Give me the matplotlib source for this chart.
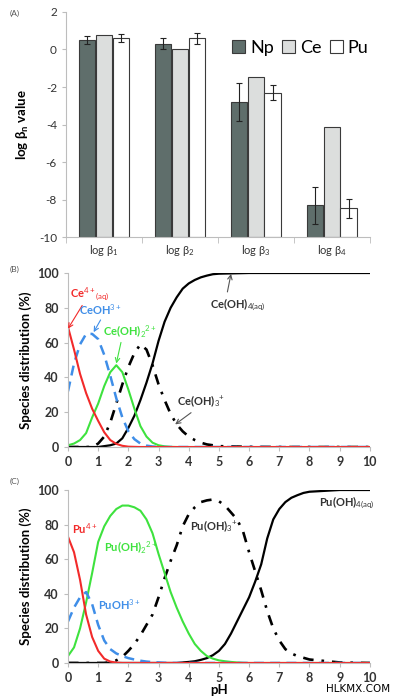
import numpy as np
import matplotlib
matplotlib.use('Agg')
import matplotlib.pyplot as plt

plt.rcParams['font.family'] = ['Lato', 'DejaVu Sans']
plt.rcParams['mathtext.fontset'] = 'custom'
plt.rcParams['mathtext.rm'] = 'Lato'
plt.rcParams['mathtext.it'] = 'Lato:italic'
plt.rcParams['mathtext.bf'] = 'Lato:bold'

# ---- panel A data: log beta_n values
beta_labels = [r'log β$_1$', r'log β$_2$', r'log β$_3$', r'log β$_4$']
np_vals = [0.5, 0.3, -2.8, -8.3]
np_err = [0.2, 0.3, 1.0, 1.0]
ce_vals = [0.75, 0.05, -1.45, -4.15]
pu_vals = [0.6, 0.6, -2.3, -8.45]
pu_err = [0.2, 0.3, 0.4, 0.5]

# ---- panel B data: Ce speciation vs pH
ph_b = [0.0, 0.2, 0.4, 0.6, 0.8, 1.0, 1.2, 1.4, 1.6, 1.8, 2.0, 2.2, 2.4, 2.6,
        2.8, 3.0, 3.2, 3.4, 3.6, 3.8, 4.0, 4.2, 4.4, 4.6, 4.8, 5.0, 6, 7, 8, 9, 10]
ce4 = [69, 56, 42, 31, 22, 15, 8.5, 4, 1.8, 0.7, 0.2, 0.1, 0, 0, 0, 0, 0, 0, 0, 0,
       0, 0, 0, 0, 0, 0, 0, 0, 0, 0, 0]
ceoh = [32, 48, 59, 65, 65, 62, 53, 41, 28, 17, 9, 4.5, 2, 0.8, 0.3, 0.1, 0, 0, 0,
        0, 0, 0, 0, 0, 0, 0, 0, 0, 0, 0, 0]
ceoh2 = [1, 2, 4, 8, 17, 25, 35, 43, 47, 43, 33, 22, 12, 6, 2.5, 1, 0.4, 0.1, 0, 0,
         0, 0, 0, 0, 0, 0, 0, 0, 0, 0, 0]
ceoh3 = [0, 0, 0, 0, 0, 2, 6, 14, 25, 36, 46, 54, 59, 56, 47, 36, 27, 19, 13, 9, 6,
         4, 2.5, 1.5, 1, 0.5, 0.1, 0, 0, 0, 0]
ceoh4 = [0, 0, 0, 0, 0, 0, 0.5, 1, 2, 5, 11, 18, 27, 37, 48, 61, 72, 80, 86, 91, 94,
         96, 97.5, 98.5, 99.3, 99.6, 100, 100, 100, 100, 100]

# ---- panel C data: Pu speciation vs pH
ph_c = [0.0, 0.2, 0.4, 0.6, 0.8, 1.0, 1.2, 1.4, 1.6, 1.8, 2.0, 2.2, 2.4, 2.6, 2.8,
        3.0, 3.2, 3.4, 3.6, 3.8, 4.0, 4.2, 4.4, 4.6, 4.8, 5.0, 5.2, 5.4, 5.6, 5.8,
        6.0, 6.2, 6.4, 6.6, 6.8, 7.0, 7.2, 7.4, 7.6, 7.8, 8.0, 9, 10]
pu4 = [73, 64, 48, 28, 15, 7, 2.5, 0.8, 0.2, 0, 0, 0, 0, 0, 0, 0, 0, 0, 0, 0, 0, 0,
       0, 0, 0, 0, 0, 0, 0, 0, 0, 0, 0, 0, 0, 0, 0, 0, 0, 0, 0, 0, 0]
puoh = [24, 32, 38, 41, 34, 22, 13, 8, 5.5, 4, 2.8, 2, 1.3, 0.8, 0.5, 0.3, 0.1, 0,
        0, 0, 0, 0, 0, 0, 0, 0, 0, 0, 0, 0, 0, 0, 0, 0, 0, 0, 0, 0, 0, 0, 0, 0, 0]
puoh2 = [4, 9, 20, 35, 52, 70, 79, 85, 89, 91, 91, 90, 88, 83, 75, 63, 52, 41, 32,
         24, 17, 11, 7, 4, 2.5, 1.5, 1, 0.6, 0.3, 0.1, 0, 0, 0, 0, 0, 0, 0, 0, 0, 0,
         0, 0, 0]
puoh3 = [0, 0, 0, 0, 0, 0, 0, 0.5, 1.5, 3.5, 7, 11, 16, 22, 28, 38, 49, 59, 68, 79,
         86, 90, 93, 94, 94.5, 93.5, 91, 87, 83, 76, 64, 53, 42, 30, 20, 13, 8, 5.5,
         4, 3, 2, 0.3, 0]
puoh4 = [0, 0, 0, 0, 0, 0, 0, 0, 0, 0, 0, 0, 0, 0, 0, 0, 0, 0, 0, 0.3, 0.6, 1, 1.8,
         2.8, 4.5, 7, 11, 17, 24, 31, 38, 47, 57, 72, 83, 89, 93, 95.5, 97, 98.3, 99,
         100, 100]

RED = '#f22a2a'
BLUE = '#3f8ee8'
GREEN = '#3ee23e'
SPINE = '#bdbdbd'
TXT = '#333333'

fig = plt.figure(figsize=(3.96, 7.0), dpi=100)

# ================= (A)
axA = fig.add_axes([0.1667, 0.661, 0.7673, 0.322])
x = np.arange(len(beta_labels))
w = 0.215
base = -10
axA.bar(x - 0.22, np.array(np_vals) - base, w, bottom=base, color='#5f6e6b',
        edgecolor='#3a3a3a', lw=0.8, label='Np')
axA.bar(x, np.array(ce_vals) - base, w, bottom=base, color='#dcdedd',
        edgecolor='#3a3a3a', lw=0.8, label='Ce')
axA.bar(x + 0.22, np.array(pu_vals) - base, w, bottom=base, color='white',
        edgecolor='#3a3a3a', lw=0.8, label='Pu')
axA.errorbar(x - 0.22, np_vals, yerr=np_err, fmt='none', ecolor='#222222',
             elinewidth=0.8, capsize=2.5, capthick=0.8)
axA.errorbar(x + 0.22, pu_vals, yerr=pu_err, fmt='none', ecolor='#222222',
             elinewidth=0.8, capsize=2.5, capthick=0.8)
axA.set_xlim(-0.5, 3.5)
axA.set_ylim(-10, 2)
axA.set_yticks([-10, -8, -6, -4, -2, 0, 2])
axA.set_yticklabels(['-10', '-8', '-6', '-4', '-2', '0', '2'])
axA.set_xticks(x)
axA.set_xticklabels(beta_labels, fontsize=8, color=TXT)
axA.set_xticks([-0.5, 0.5, 1.5, 2.5, 3.5], minor=True)
axA.tick_params(axis='x', which='major', length=0, pad=4)
axA.tick_params(axis='x', which='minor', length=4, color=SPINE)
axA.tick_params(axis='y', length=3, color=SPINE, labelsize=8.5, labelcolor=TXT)
axA.set_ylabel(r'log β$_{\mathbf{n}}$ value', fontsize=9.5, fontweight='bold',
               labelpad=6)
for s in ['top', 'right']:
    axA.spines[s].set_visible(False)
for s in ['left', 'bottom']:
    axA.spines[s].set_color(SPINE)
leg = axA.legend(loc='center right', ncol=3, frameon=False, fontsize=13,
                 handlelength=0.75, handleheight=0.75, handletextpad=0.25,
                 columnspacing=0.45, borderaxespad=0.0, borderpad=0.0,
                 bbox_to_anchor=(0.995, 0.84))
fig.text(0.025, 0.978, '(A)', fontsize=6, color='#555555')


def style_species(ax):
    ax.set_xlim(0, 10)
    ax.set_ylim(0, 100)
    ax.set_xticks(range(11))
    ax.set_yticks(range(0, 101, 20))
    ax.tick_params(axis='both', labelsize=9, labelcolor=TXT, color=SPINE,
                   length=3)
    for lab in ax.get_xticklabels() + ax.get_yticklabels():
        lab.set_fontweight('bold')
    for s in ['top', 'right']:
        ax.spines[s].set_visible(False)
    ax.spines['left'].set_color(SPINE)
    ax.spines['bottom'].set_color(SPINE)
    ax.set_ylabel('Species distribution (%)', fontsize=9.5, fontweight='bold',
                  labelpad=4)


# ================= (B)
axB = fig.add_axes([0.1717, 0.3614, 0.7623, 0.2486])
axB.plot(ph_b, ceoh4, color='black', lw=1.6)
axB.plot(ph_b, ceoh3, color='black', lw=1.9, ls=(0, (4, 3, 1, 3)))
axB.plot(ph_b, ceoh2, color=GREEN, lw=1.5)
axB.plot(ph_b, ceoh, color=BLUE, lw=1.8, ls=(0, (4, 2.5)))
axB.plot(ph_b, ce4, color=RED, lw=1.5)
style_species(axB)
fig.text(0.025, 0.612, '(B)', fontsize=6, color='#555555')

akw = dict(arrowstyle='->', lw=0.8)
axB.annotate(r'Ce$^{4+}$$_{\rm (aq)}$', xy=(0.0, 68), xytext=(0.05, 86),
             color=RED, fontsize=8, fontweight='bold',
             arrowprops=dict(color=RED, shrinkA=0, shrinkB=0, **akw))
axB.annotate(r'CeOH$^{3+}$', xy=(0.85, 66), xytext=(0.35, 76),
             color=BLUE, fontsize=8, fontweight='bold',
             arrowprops=dict(color=BLUE, shrinkA=0, shrinkB=0,
                             relpos=(0.55, 0), **akw))
axB.annotate(r'Ce(OH)$_2$$^{2+}$', xy=(1.6, 48), xytext=(1.15, 64),
             color=GREEN, fontsize=8, fontweight='bold',
             arrowprops=dict(color=GREEN, shrinkA=0, shrinkB=0,
                             relpos=(0.35, 0), **akw))
axB.annotate(r'Ce(OH)$_3$$^{+}$', xy=(3.55, 13), xytext=(3.6, 24),
             color=TXT, fontsize=8, fontweight='bold',
             arrowprops=dict(color='#555555', shrinkA=1, shrinkB=0,
                             relpos=(0.4, 0), **akw))
axB.annotate(r'Ce(OH)$_{4\rm (aq)}$', xy=(5.4, 99.5), xytext=(4.7, 80),
             color=TXT, fontsize=8, fontweight='bold',
             arrowprops=dict(color='#555555', shrinkA=1, shrinkB=0,
                             relpos=(0.3, 1), **akw))

# ================= (C)
axC = fig.add_axes([0.1717, 0.0529, 0.7623, 0.2471])
axC.plot(ph_c, puoh4, color='black', lw=1.6)
axC.plot(ph_c, puoh3, color='black', lw=1.9, ls=(0, (4, 3, 1, 3)))
axC.plot(ph_c, puoh2, color=GREEN, lw=1.5)
axC.plot(ph_c, puoh, color=BLUE, lw=1.8, ls=(0, (4, 2.5)))
axC.plot(ph_c, pu4, color=RED, lw=1.5)
style_species(axC)
axC.set_xlabel('pH', fontsize=9.5, fontweight='bold', labelpad=0)
fig.text(0.025, 0.309, '(C)', fontsize=6, color='#555555')

axC.text(0.12, 75, r'Pu$^{4+}$', color=RED, fontsize=8, fontweight='bold')
axC.text(1.2, 64, r'Pu(OH)$_2$$^{2+}$', color=GREEN, fontsize=8,
         fontweight='bold')
axC.text(1.0, 31, r'PuOH$^{3+}$', color=BLUE, fontsize=8, fontweight='bold')
axC.text(4.05, 77, r'Pu(OH)$_3$$^{+}$', color=TXT, fontsize=8,
         fontweight='bold')
axC.text(8.3, 91, r'Pu(OH)$_{4\rm (aq)}$', color=TXT, fontsize=8,
         fontweight='bold')

fig.text(0.985, 0.012, 'HLKMX.COM', fontsize=7.5, ha='right',
         family=['DejaVu Sans'], color='black')

fig.savefig('out.png', dpi=100)
